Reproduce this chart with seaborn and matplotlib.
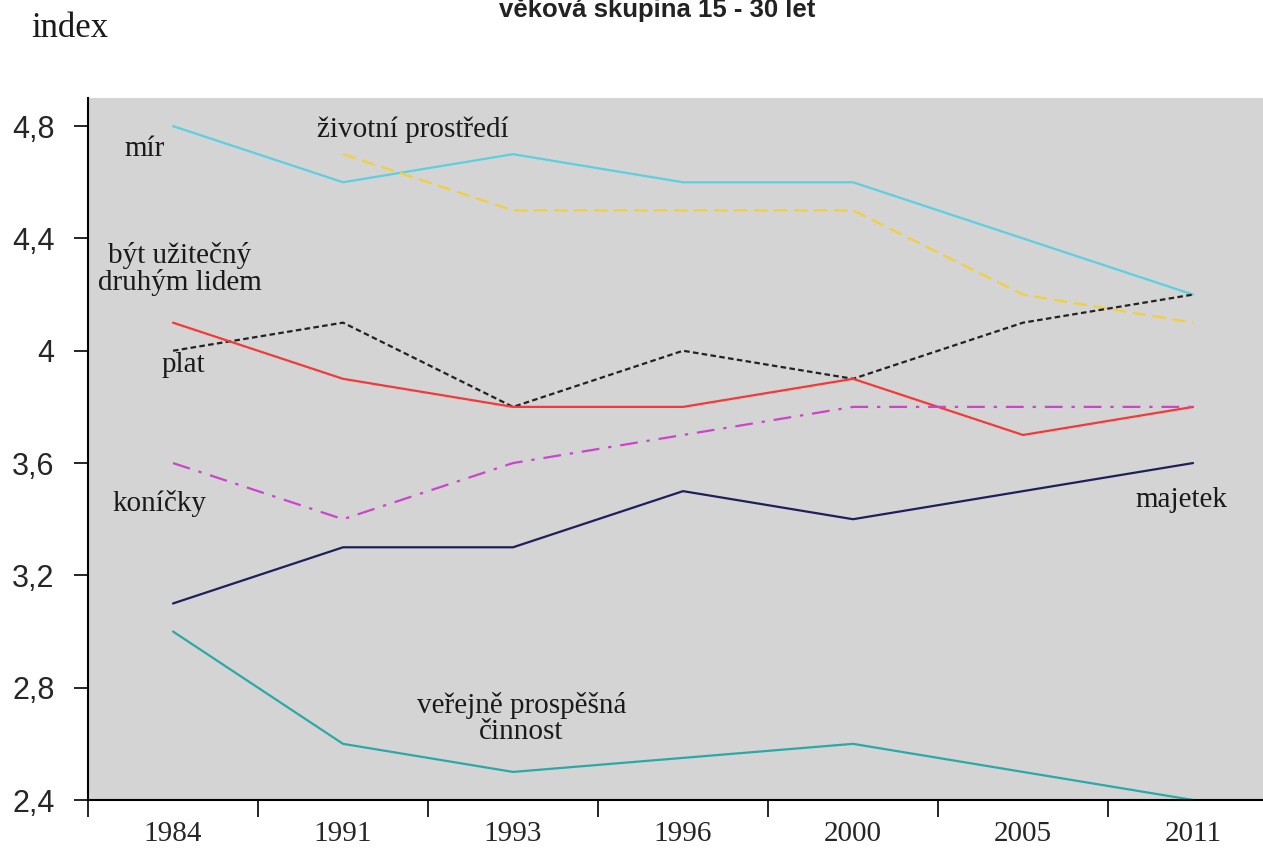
"""Hodnotové orientace mládeže, věková skupina 15 - 30 let."""

import numpy as np
import pandas as pd
import matplotlib
matplotlib.use("Agg")
import matplotlib.pyplot as plt
import seaborn as sns

years = ["1984", "1991", "1993", "1996", "2000", "2005", "2011"]
y_ticks = [2.4, 2.8, 3.2, 3.6, 4.0, 4.4, 4.8]
y_tick_labels = ["2,4", "2,8", "3,2", "3,6", "4", "4,4", "4,8"]

mir = [4.8, 4.6, 4.7, 4.6, 4.6, 4.4, 4.2]
zivotni_prostredi = [np.nan, 4.7, 4.5, 4.5, 4.5, 4.2, 4.1]
plat = [4.0, 4.1, 3.8, 4.0, 3.9, 4.1, 4.2]
uzitecny = [4.1, 3.9, 3.8, 3.8, 3.9, 3.7, 3.8]
konicky = [3.6, 3.4, 3.6, 3.7, 3.8, 3.8, 3.8]
majetek = [3.1, 3.3, 3.3, 3.5, 3.4, 3.5, 3.6]
verejne = [3.0, 2.6, 2.5, 2.55, 2.6, 2.5, 2.4]

series = [
    ("mír", mir, "#5ccfe0", "-"),
    ("životní prostředí", zivotni_prostredi, "#f2cf3c", (0, (6, 3))),
    ("plat", plat, "#222222", (0, (2.5, 1.5))),
    ("být užitečný druhým lidem", uzitecny, "#f23a3a", "-"),
    ("koníčky", konicky, "#cc44cc", (0, (8, 4, 1.5, 4))),
    ("majetek", majetek, "#1f1f5c", "-"),
    ("veřejně prospěšná činnost", verejne, "#2aa9a6", "-"),
]

sns.set_theme(style="white")
plt.rcParams["font.family"] = ["Liberation Serif", "DejaVu Serif"]

fig = plt.figure(figsize=(12.63, 8.48), dpi=100)
ax = fig.add_axes([0.0697, 0.0566, 0.9422, 0.8278])
ax.set_facecolor("#d4d4d4")

pos = np.arange(len(years))
for name, vals, color, ls in series:
    df = pd.DataFrame({"x": pos, "y": vals}).dropna()
    sns.lineplot(data=df, x="x", y="y", ax=ax, color=color, linestyle=ls,
                 linewidth=1.6, legend=False)

ax.set_xlim(-0.5, len(years) - 0.5)
ax.set_ylim(2.4, 4.9)
ax.set_yticks(y_ticks)
ax.set_yticklabels(y_tick_labels, fontsize=22,
                   family=["Liberation Sans", "DejaVu Sans"])
ax.set_xticks(pos)
ax.set_xticklabels(years, fontsize=21)
ax.set_xticks(np.arange(-0.5, len(years)), minor=True)
ax.tick_params(axis="x", which="major", length=0, pad=15)
ax.tick_params(axis="x", which="minor", length=12, width=1.2, color="black",
               direction="out", bottom=True)
ax.tick_params(axis="y", length=10, width=1.2, color="black", direction="out",
               left=True, pad=14)
ax.set_xlabel("")
ax.set_ylabel("")
for side in ["top", "right"]:
    ax.spines[side].set_visible(False)
for side in ["left", "bottom"]:
    ax.spines[side].set_color("black")
    ax.spines[side].set_linewidth(1.5)

# popisky řad
lab = dict(fontsize=21, color="#1a1a1a", ha="center", va="center")
ax.text(-0.17, 4.72, "mír", **lab)
ax.text(1.41, 4.786, "životní prostředí", **lab)
ax.text(0.04, 4.29, "být užitečný\ndruhým lidem", linespacing=1.0, **lab)
ax.text(0.06, 3.95, "plat", **lab)
ax.text(-0.08, 3.455, "koníčky", **lab)
ax.text(5.93, 3.47, "majetek", **lab)
ax.text(2.05, 2.69, "veřejně prospěšná\nčinnost", linespacing=1.0, **lab)

fig.text(0.025, 0.956, "index", fontsize=25, ha="left", va="baseline",
         color="#1a1a1a")
fig.text(0.52, 0.98, "věková skupina 15 - 30 let", fontsize=18.5,
         fontweight="bold", ha="center", va="baseline",
         family=["Liberation Sans", "DejaVu Sans"], color="#222222")

fig.savefig("out.png", dpi=100)
